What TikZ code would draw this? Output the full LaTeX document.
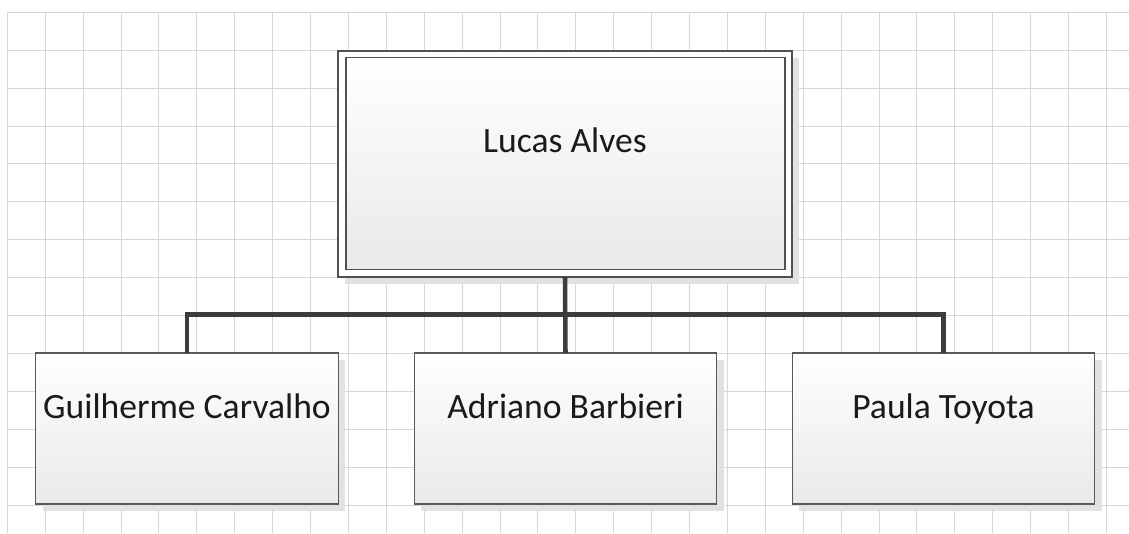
\documentclass[tikz,border=0pt]{standalone}
\usepackage{fontspec}
\setmainfont{Carlito}
\usetikzlibrary{calc,shadows}
\definecolor{gridgray}{HTML}{D6D6D6}
\definecolor{boxline}{HTML}{595959}
\definecolor{boxbot}{HTML}{E9E9E9}
\definecolor{shadowgray}{HTML}{E2E2E2}
\definecolor{connline}{HTML}{3C3C3C}
\definecolor{txtcol}{HTML}{1A1A1A}
\tikzset{
  gridline/.style={draw=gridgray, line width=0.75pt},
  boxshadow/.style={drop shadow={shadow xshift=5.25pt, shadow yshift=-5.25pt, fill=shadowgray, opacity=1}},
  personbox/.style={rectangle, draw=boxline, line width=0.9pt, outer sep=0pt,
    top color=white, bottom color=boxbot, boxshadow,
    minimum width=226.9pt, minimum height=113.25pt},
  leadouter/.style={rectangle, draw=boxline!90!black, line width=1pt, outer sep=0pt, fill=white,
    boxshadow, minimum width=340.5pt, minimum height=169.5pt},
  leadinner/.style={rectangle, draw=boxline!90!black, line width=1pt, outer sep=0pt,
    top color=white, bottom color=boxbot,
    minimum width=329.25pt, minimum height=159pt},
  nametext/.style={font=\fontsize{26.7}{31}\selectfont, text=txtcol, inner sep=0pt},
  connector/.style={draw=connline, line width=3.4pt, line join=miter},
}
\begin{document}
\begin{tikzpicture}[x=0.75pt, y=-0.75pt]
\useasboundingbox (0,0) rectangle (1129,533);
\fill[white] (0,0) rectangle (1129,533);
% grid
\foreach \k in {0,...,29} \draw[gridline] ({7.3+37.9*\k},12) -- ({7.3+37.9*\k},533);
\foreach \k in {0,...,13} \draw[gridline] (7,{12.3+37.9*\k}) -- (1129,{12.3+37.9*\k});
% boxes
\node[leadouter] (lead) at (565,164) {};
\node[leadinner] (leadin) at (565.5,163.5) {};
\node[personbox] (b1) at (187,428.5) {};
\node[personbox] (b2) at (565.5,428.5) {};
\node[personbox] (b3) at (943.5,428.5) {};
% texts
\node[nametext, anchor=base] (t0) at ($(lead.center)+(0,-12)$) {Lucas Alves};
\node[nametext, anchor=base] (t1) at ($(b1.center)+(0,-10)$) {Guilherme Carvalho};
\node[nametext, anchor=base] (t2) at ($(b2.center)+(0,-10)$) {Adriano Barbieri};
\node[nametext, anchor=base] (t3) at ($(b3.center)+(0,-10)$) {Paula Toyota};
% connectors
\coordinate (bus) at (565.5,314.3);
\draw[connector] (lead.south) -- (b2.north);
\draw[connector] (b1.north) |- (bus) -| (b3.north);
\end{tikzpicture}
\end{document}
